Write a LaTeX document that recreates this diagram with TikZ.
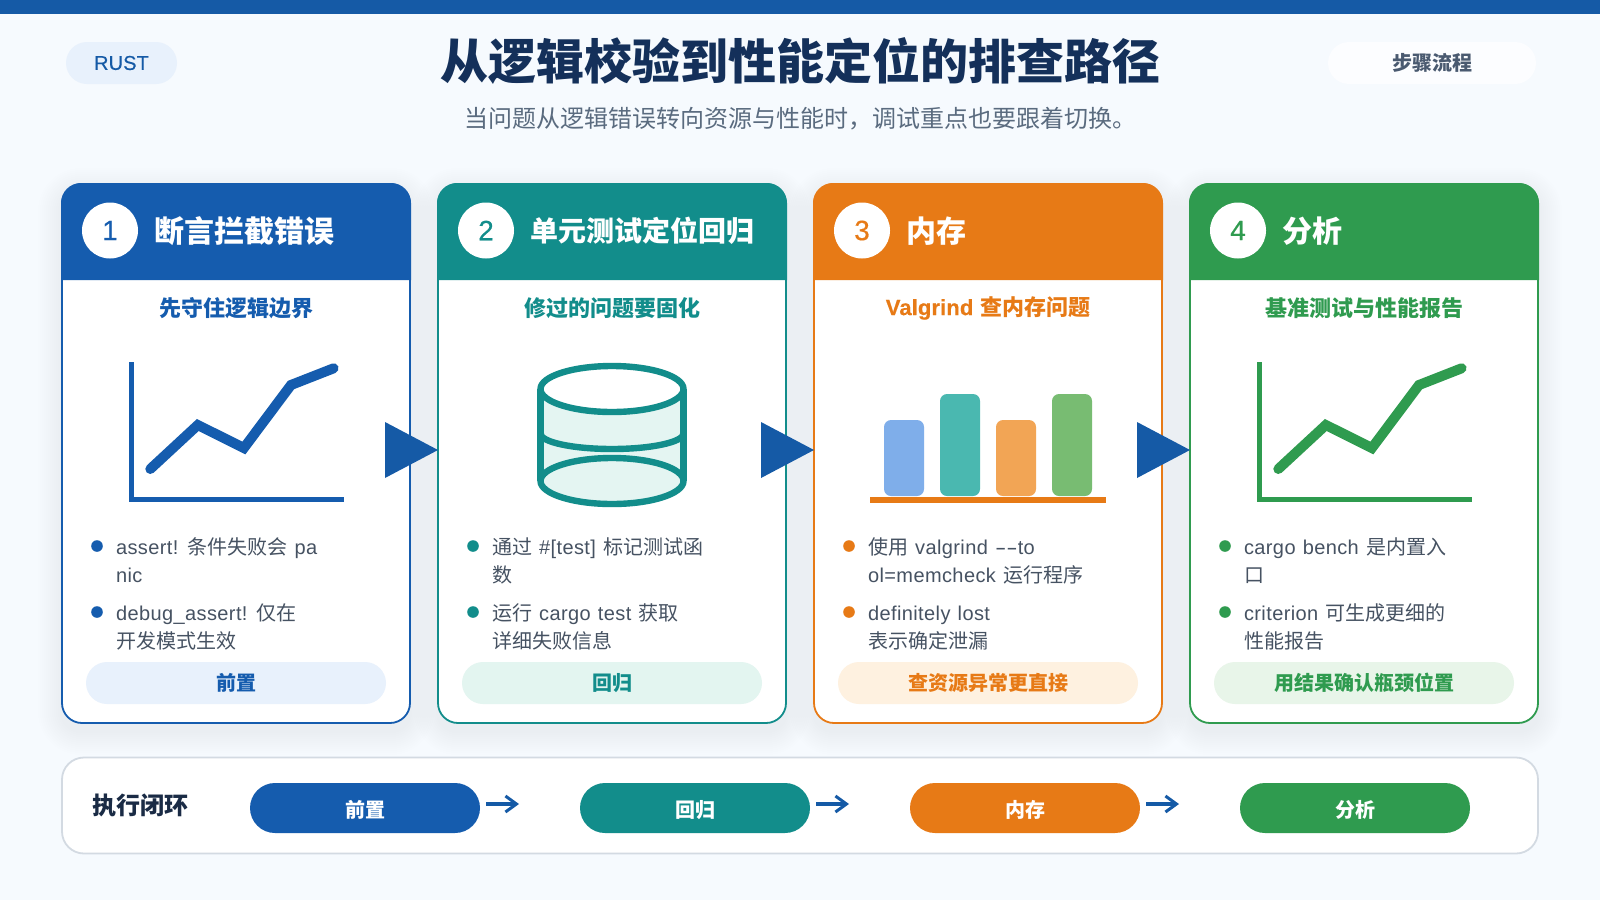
\documentclass[tikz,border=0pt]{standalone}
\usepackage{fontspec}
\usepackage{graphicx}
\setmainfont{Noto Sans CJK SC}
\newfontfamily\lat[LetterSpace=2,WordSpace=1.2]{Liberation Sans}
\newfontfamily\latm[FakeBold=0.35,LetterSpace=0.5,WordSpace=1.1]{Liberation Sans}
\usetikzlibrary{calc,arrows.meta,shapes.geometric}
\newcommand\fs[1]{\fontsize{\dimexpr#1pt/2\relax}{\dimexpr#1pt*7/10\relax}\selectfont}
\newcommand\la[1]{{\lat #1}}
\newcommand\lam[1]{{\latm #1}}
\newcommand\wdash{\scalebox{1.7}[1]{-}}
\definecolor{pagebg}{HTML}{F6FAFE}
\definecolor{cblue}{HTML}{155CAE}
\definecolor{cteal}{HTML}{128D8B}
\definecolor{corange}{HTML}{E77A16}
\definecolor{cgreen}{HTML}{2F9B4F}
\definecolor{lblue}{HTML}{E8F1FC}
\definecolor{lteal}{HTML}{E3F5F0}
\definecolor{lorange}{HTML}{FEF1E0}
\definecolor{lgreen}{HTML}{E8F5E9}
\definecolor{navy}{HTML}{14305A}
\definecolor{ink}{HTML}{1A2B45}
\definecolor{subgrey}{HTML}{5A6B7F}
\definecolor{bodygrey}{HTML}{465262}
\definecolor{tagink}{HTML}{4A5A70}
\definecolor{panelline}{HTML}{D3DAE2}
\definecolor{arrowblue}{HTML}{155AA6}
\definecolor{cylfill}{HTML}{E4F5F2}
\definecolor{softwhite}{HTML}{FCFDFF}
\definecolor{shadowc}{HTML}{1E4A9A}
\definecolor{bar1}{HTML}{7FAEEA}
\definecolor{bar2}{HTML}{4AB8B0}
\definecolor{bar3}{HTML}{F2A555}
\definecolor{bar4}{HTML}{78BC72}
\tikzset{
  lab/.style={inner sep=0pt,outer sep=0pt},
  cardbox/.style={lab,fill=white,line width=0.9pt,rounded corners=10pt,minimum width=174pt,minimum height=269.5pt},
  numdisc/.style={circle,fill=white,lab,minimum size=28pt,font=\fs{28}\latm},
  headtxt/.style={lab,anchor=west,text=white,font=\fs{30}\bfseries},
  subtxt/.style={lab,font=\fs{22}\bfseries},
  tagpill/.style={lab,rounded corners=10.5pt,minimum width=150pt,minimum height=21pt,font=\fs{20}\bfseries},
  bodytxt/.style={lab,anchor=west,align=left,text=bodygrey,font=\fs{20}},
  flowpill/.style={lab,rounded corners=12.5pt,minimum width=115pt,minimum height=25pt},
  flowtxt/.style={lab,text=white,font=\fs{20}\bfseries},
  flowarrow/.style={draw=arrowblue,line width=1.6pt,-{Straight Barb[length=5.5pt,width=8pt,line width=1.5pt]}},
  bigtip/.style={fill=arrowblue},
  axisline/.style={line width=2.5pt},
  trendline/.style={line width=5pt,line cap=round,line join=miter},
  cylline/.style={cteal,line width=3.2pt},
}
\newcommand\softshadow[4]{%
  \foreach \g in {1,3,...,23}{%
    \fill[shadowc,opacity=0.0035,rounded corners=\g pt*0.5+10pt]
      (#1-\g,#2-\g+8) rectangle (#3+\g,#4+\g+8);
  }%
}
\newcommand\cardbase[9]{%
  \softshadow{#2}{183}{#2+350}{724}
  \node[cardbox,draw=#3] (c#1) at (#2+175,453.5) {};
  \fill[#3] (#2,280) {[rounded corners=10pt] -- (#2,183) -- (#2+350,183)} -- (#2+350,280) -- cycle;
  \node[numdisc,text=#3] (n#1) at (#2+49,230.5) {#5};
  \node[headtxt,font=\fs{#9}\bfseries] (t#1) at (#2+93,231) {#6};
  \node[subtxt,text=#3] (s#1) at (#2+175,308) {#7};
  \node[tagpill,fill=#4,text=#3] (tag#1) at (#2+175,683) {#8};
}
\newcommand\buldot[3]{\fill[#3] (#1+36,#2-1) circle[radius=5.8];}
\newcommand\bul[5]{%
  \buldot{#2}{#3}{#4}
  \node[bodytxt] (#1) at (#2+55,#3) [anchor=north west,yshift=4.9pt] {#5};
}
\newcommand\chart[2]{%
  \begin{scope}[shift={(#1,0)}]
    \draw[axisline,#2] (70,362) -- (70,499) -- (283,499);
    \draw[trendline,#2] (89.3,469) -- (136.8,425) -- (182.9,448) -- (230,385) -- (272.6,368.3);
  \end{scope}
}
\begin{document}
\begin{tikzpicture}[x=0.5pt,y=-0.5pt]
\useasboundingbox (0,0) rectangle (1600,900);
\fill[pagebg] (0,0) rectangle (1600,900);
\fill[arrowblue] (0,0) rectangle (1600,14);
% header
\node[lab,fill=lblue,rounded corners=10.5pt,minimum width=55.5pt,minimum height=21pt] (rustpill) at (121.5,63) {};
\node[lab,text=arrowblue,font=\fs{20}\latm] (rust) at (rustpill.center) {RUST};
\node[lab,fill=softwhite,rounded corners=10.5pt,minimum width=104pt,minimum height=21pt] (steppill) at (1432,63) {};
\node[lab,text=tagink,font=\fs{20}\bfseries] (steptxt) at (steppill.center) {步骤流程};
\node[lab,text=navy,font=\fs{48}\bfseries] (title) at (800,61.5) {从逻辑校验到性能定位的排查路径};
\node[lab,text=subgrey,font=\fs{24}] (subtitle) at (800.5,118.5) {当问题从逻辑错误转向资源与性能时，调试重点也要跟着切换。};
% cards
\cardbase{1}{61}{cblue}{lblue}{1}{断言拦截错误}{先守住逻辑边界}{前置}{30}
\cardbase{2}{437}{cteal}{lteal}{2}{单元测试定位回归}{修过的问题要固化}{回归}{28}
\cardbase{3}{813}{corange}{lorange}{3}{内存}{\lam{Valgrind }查内存问题}{查资源异常更直接}{30}
\cardbase{4}{1189}{cgreen}{lgreen}{4}{分析}{基准测试与性能报告}{用结果确认瓶颈位置}{30}
% icons
\chart{61}{cblue}
\chart{1189}{cgreen}
% cylinder
\fill[cylfill] (540.5,389) -- (540.5,481) arc[start angle=180,end angle=0,x radius=71.5,y radius=23] -- (683.5,389) -- cycle;
\draw[cylline,fill=white] (612,389) ellipse[x radius=71.5,y radius=23];
\draw[cylline,fill=cylfill] (612,481) ellipse[x radius=71.5,y radius=23];
\draw[cylline] (540.5,433.5) arc[start angle=180,end angle=0,x radius=71.5,y radius=15.5];
\draw[cylline] (540.5,389) -- (540.5,481) (683.5,389) -- (683.5,481);
% bars
\fill[bar1,rounded corners=3.5pt] (884,420) rectangle (924,496);
\fill[bar2,rounded corners=3.5pt] (940,394) rectangle (980,496);
\fill[bar3,rounded corners=3.5pt] (996,420) rectangle (1036,496);
\fill[bar4,rounded corners=3.5pt] (1052,394) rectangle (1092,496);
\fill[corange] (870,497) rectangle (1106,502.5);
% bullets
\bul{b11}{61}{547}{cblue}{\la{assert! }条件失败会\la{ pa}\\\la{nic}}
\bul{b12}{61}{613}{cblue}{\la{debug\_assert! }仅在\\开发模式生效}
\bul{b21}{437}{547}{cteal}{通过\la{ \#[test] }标记测试函\\数}
\bul{b22}{437}{613}{cteal}{运行\la{ cargo test }获取\\详细失败信息}
\bul{b31}{813}{547}{corange}{使用\la{ valgrind \wdash\wdash to}\\\la{ol=memcheck }运行程序}
\buldot{813}{613}{corange}
\node[bodytxt] (b32) at (868,613) [anchor=north west,yshift=3.4pt] {\la{definitely lost}\\表示确定泄漏};
\bul{b41}{1189}{547}{cgreen}{\la{cargo bench }是内置入\\口}
\bul{b42}{1189}{613}{cgreen}{\la{criterion }可生成更细的\\性能报告}
% big arrows between cards
\foreach \i in {1,2,3}{
  \fill[bigtip] ($(c\i.east)+(-25,-31.5)$) -- ($(c\i.east)+(28,-3.5)$) -- ($(c\i.east)+(-25,24.5)$) -- cycle;
}
% bottom panel
\node[lab,draw=panelline,fill=white,line width=0.9pt,rounded corners=11pt,minimum width=738pt,minimum height=48pt] (panel) at (800,805.5) {};
\node[lab,text=ink,font=\fs{24}\bfseries] (loop) at (140,805) {执行闭环};
\node[flowpill,fill=cblue] (p1) at (365,808) {};
\node[flowpill,fill=cteal] (p2) at (695,808) {};
\node[flowpill,fill=corange] (p3) at (1025,808) {};
\node[flowpill,fill=cgreen] (p4) at (1355,808) {};
\node[flowtxt] (f1) at (365,810) {前置};
\node[flowtxt] (f2) at (695,810) {回归};
\node[flowtxt] (f3) at (1025,810) {内存};
\node[flowtxt] (f4) at (1355,810) {分析};
\foreach \i in {1,2,3}{
  \coordinate (as\i) at ($(p\i.east)+(6,-4)$);
  \coordinate (ae\i) at ($(p\i.east)+(39,-4)$);
  \draw[flowarrow] (as\i) -- (ae\i);
}
\end{tikzpicture}
\end{document}
